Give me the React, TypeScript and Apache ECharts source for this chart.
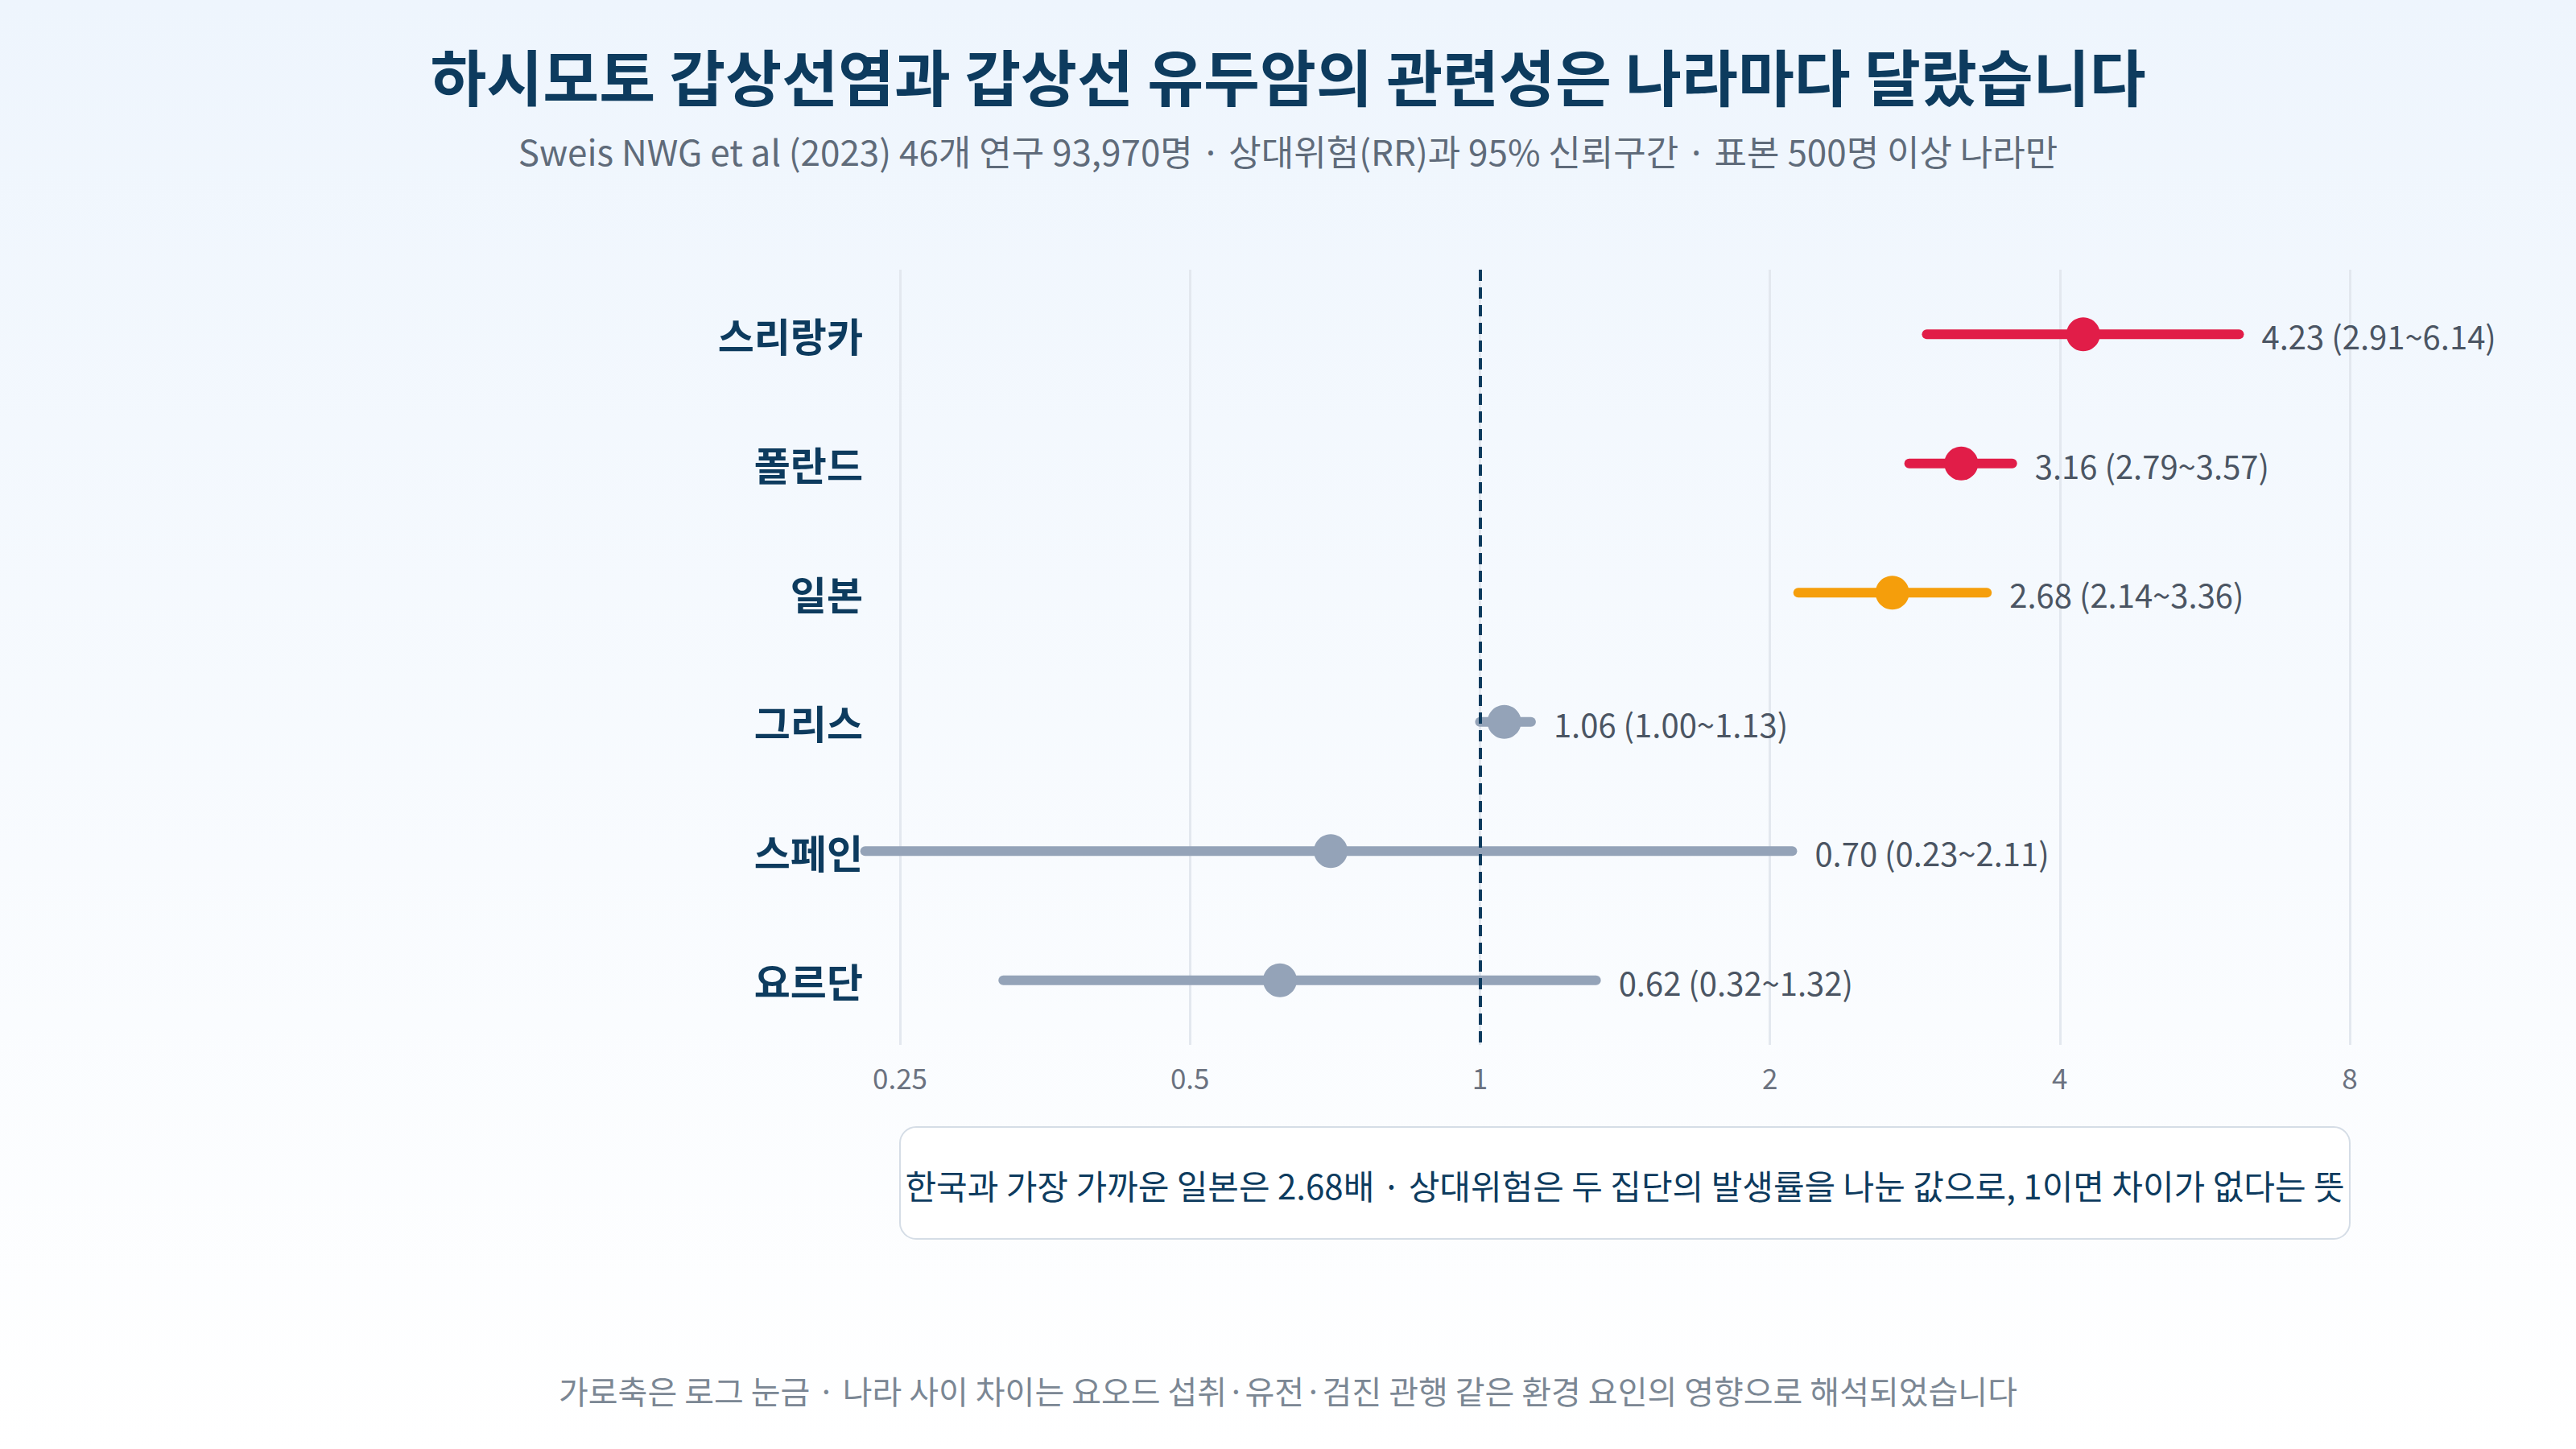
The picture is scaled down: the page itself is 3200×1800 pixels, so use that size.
import { useEffect, useRef } from 'react'
import * as echarts from 'echarts'

const countries = ['스리랑카', '폴란드', '일본', '그리스', '스페인', '요르단']
const rr = [4.23, 3.16, 2.68, 1.06, 0.7, 0.62]
const ciLow = [2.91, 2.79, 2.14, 1.0, 0.23, 0.32]
const ciHigh = [6.14, 3.57, 3.36, 1.13, 2.11, 1.32]
const xTicks = [0.25, 0.5, 1, 2, 4, 8]
const highlight = '일본'

const title = '하시모토 갑상선염과 갑상선 유두암의 관련성은 나라마다 달랐습니다'
const subtitle = 'Sweis NWG et al (2023) 46개 연구 93,970명 · 상대위험(RR)과 95% 신뢰구간 · 표본 500명 이상 나라만'
const note = '한국과 가장 가까운 일본은 2.68배 · 상대위험은 두 집단의 발생률을 나눈 값으로, 1이면 차이가 없다는 뜻'
const footer = '가로축은 로그 눈금 · 나라 사이 차이는 요오드 섭취·유전·검진 관행 같은 환경 요인의 영향으로 해석되었습니다'

const FONT = "'Noto Sans CJK KR', 'Noto Sans', sans-serif"
const NAVY = '#0d3b5e'
const RED = '#e11d48'
const ORANGE = '#f59e0b'
const GRAY = '#94a3b8'

// 일본은 강조, 신뢰구간 하한이 1보다 크면 빨강, 나머지는 회색
const colorFor = (i: number) => {
  if (countries[i] === highlight) return ORANGE
  if (ciLow[i] > 1) return RED
  return GRAY
}

const fmt = (v: number) => v.toFixed(2)

export default function App() {
  const ref = useRef<HTMLDivElement>(null)

  useEffect(() => {
    if (!ref.current) return
    const chart = echarts.init(ref.current, null, { renderer: 'svg' })

    const rows = countries.map((c, i) => [rr[i], i, ciLow[i], ciHigh[i]])

    chart.setOption({
      animation: false,
      backgroundColor: new echarts.graphic.LinearGradient(0, 0, 0, 1, [
        { offset: 0, color: '#eef5fd' },
        { offset: 1, color: '#ffffff' },
      ]),
      textStyle: { fontFamily: FONT },
      title: [
        {
          text: title,
          left: 'center',
          top: 50,
          textStyle: { fontSize: 76, fontWeight: 'bold', color: NAVY, fontFamily: FONT },
        },
        {
          text: subtitle,
          left: 'center',
          top: 160,
          textStyle: { fontSize: 44, fontWeight: 'normal', color: '#5f6b7a', fontFamily: FONT },
        },
        {
          text: footer,
          left: 'center',
          top: 1702,
          textStyle: { fontSize: 40, fontWeight: 'normal', color: '#7b8794', fontFamily: FONT },
        },
      ],
      grid: { left: 1118, right: 3200 - 2919, top: 335, height: 963 },
      xAxis: {
        type: 'log',
        logBase: 2,
        min: 0.25,
        max: 8,
        splitNumber: 5,
        axisLine: { show: false },
        axisTick: { show: false },
        splitLine: { show: true, lineStyle: { color: '#e3e8ef', width: 3 } },
        axisLabel: {
          color: '#6b7280',
          fontSize: 35,
          margin: 22,
          fontFamily: FONT,
          formatter: (v: number) => {
            const t = xTicks.find((x) => Math.abs(x - v) < 1e-6)
            return t !== undefined ? String(t) : ''
          },
        },
      },
      yAxis: {
        type: 'category',
        data: countries,
        inverse: true,
        axisLine: { show: false },
        axisTick: { show: false },
        splitLine: { show: false },
        axisLabel: {
          color: NAVY,
          fontSize: 49,
          fontWeight: 'bold',
          margin: 46,
          fontFamily: FONT,
        },
      },
      series: [
        {
          type: 'custom',
          clip: false,
          z: 3,
          data: rows,
          renderItem: (params: any, api: any) => {
            const i = api.value(1)
            const lo = api.coord([api.value(2), i])
            const hi = api.coord([api.value(3), i])
            const c = colorFor(params.dataIndex)
            return {
              type: 'group',
              children: [
                {
                  type: 'line',
                  shape: { x1: lo[0], y1: lo[1], x2: hi[0], y2: hi[1] },
                  style: { stroke: c, lineWidth: 12, lineCap: 'round' },
                },
                {
                  type: 'text',
                  x: hi[0] + 28,
                  y: hi[1] + 2,
                  style: {
                    text: `${fmt(api.value(0))} (${fmt(api.value(2))}~${fmt(api.value(3))})`,
                    fill: '#4b5563',
                    fontSize: 40,
                    fontFamily: FONT,
                    verticalAlign: 'middle',
                    align: 'left',
                  },
                },
              ],
            }
          },
        },
        {
          type: 'scatter',
          z: 4,
          symbolSize: 42,
          data: rows.map((r, i) => ({
            value: [r[0], r[1]],
            itemStyle: { color: colorFor(i), opacity: 1 },
          })),
          markLine: {
            silent: true,
            symbol: 'none',
            label: { show: false },
            lineStyle: { color: NAVY, width: 4, type: [14, 8] },
            data: [{ xAxis: 1 }],
          },
        },
      ],
      graphic: [
        {
          type: 'group',
          children: [
            {
              type: 'rect',
              shape: { x: 1118, y: 1400, width: 1801, height: 139, r: 20 },
              style: { fill: 'rgba(255,255,255,0.85)', stroke: '#d5dde6', lineWidth: 2 },
            },
            {
              type: 'text',
              x: 2018.5,
              y: 1471,
              style: {
                text: note,
                fill: NAVY,
                fontSize: 42,
                fontFamily: FONT,
                align: 'center',
                verticalAlign: 'middle',
              },
            },
          ],
        },
      ],
    })

    return () => chart.dispose()
  }, [])

  return (
    <div
      ref={ref}
      style={{ position: 'fixed', left: 0, top: 0, width: 3200, height: 1800 }}
    />
  )
}
